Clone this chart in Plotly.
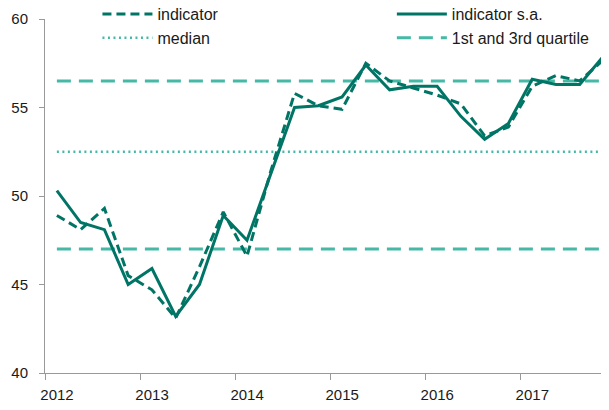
import plotly.graph_objects as go

# Quarterly data 2012Q1 .. 2017Q4
years = [2012, 2013, 2014, 2015, 2016, 2017]
quarters = [f"{y}Q{q}" for y in years for q in range(1, 5)]

indicator = [48.9, 48.1, 49.3, 45.5, 44.7, 43.1, 46.0, 49.1, 46.6, 51.4, 55.8, 55.1,
             54.9, 57.5, 56.5, 56.1, 55.7, 55.2, 53.4, 53.9, 56.2, 56.8, 56.5, 57.7]
indicator_sa = [50.3, 48.5, 48.1, 45.0, 45.9, 43.2, 45.0, 48.9, 47.5, 51.3, 55.0, 55.1,
                55.6, 57.4, 56.0, 56.2, 56.2, 54.5, 53.2, 54.1, 56.6, 56.3, 56.3, 57.9]
median_value = 52.5
q1_value = 47.0
q3_value = 56.5

year_ticks = [2012, 2013, 2014, 2015, 2016, 2017]
year_labels = ["2012", "2013", "2014", "2015", "2016", "2017"]

# position of each quarter in the middle of its category slot
xpos = [int(q[:4]) + (int(q[-1]) - 1) / 4 + 0.125 for q in quarters]

dark = "#007566"
light = "#45b8a6"
font_family = "Liberation Sans, Arial, sans-serif"

fig = go.Figure()
fig.add_trace(go.Scatter(x=[xpos[0], xpos[-1]], y=[median_value, median_value], mode="lines",
                         name="median", legend="legend", legendrank=2,
                         line=dict(color=light, width=2.5, dash="2px,3.5px")))
fig.add_trace(go.Scatter(x=[xpos[0], xpos[-1]], y=[q1_value, q1_value], mode="lines",
                         name="1st and 3rd quartile", legend="legend2", legendrank=2,
                         legendgroup="q",
                         line=dict(color=light, width=3, dash="14px,8px")))
fig.add_trace(go.Scatter(x=[xpos[0], xpos[-1]], y=[q3_value, q3_value], mode="lines",
                         name="1st and 3rd quartile", legend="legend2", legendgroup="q",
                         showlegend=False,
                         line=dict(color=light, width=3, dash="14px,8px")))
fig.add_trace(go.Scatter(x=xpos, y=indicator, mode="lines", name="indicator",
                         legend="legend", legendrank=1,
                         line=dict(color=dark, width=3, dash="9px,5px")))
fig.add_trace(go.Scatter(x=xpos, y=indicator_sa, mode="lines", name="indicator s.a.",
                         legend="legend2", legendrank=1,
                         line=dict(color=dark, width=3)))

leg_common = dict(orientation="v", xanchor="left", yanchor="top", y=1.062,
                  bgcolor="rgba(0,0,0,0)", font=dict(size=16, color="#1a1a1a"),
                  itemwidth=50, tracegroupgap=0)

fig.update_layout(
    width=609, height=410,
    margin=dict(l=37, r=8, t=11, b=45, autoexpand=False),
    paper_bgcolor="white", plot_bgcolor="white",
    font=dict(family=font_family, size=15, color="#1a1a1a"),
    legend=dict(x=0.093, **leg_common),
    legend2=dict(x=0.615, **leg_common),
    xaxis=dict(range=[2012, 2017.933], tickvals=year_ticks, ticktext=year_labels,
               ticks="outside", ticklen=6, tickcolor="#999999", tickwidth=1,
               ticklabelshift=12, ticklabelstandoff=2,
               showline=True, linecolor="#999999", linewidth=1, showgrid=False, zeroline=False),
    yaxis=dict(range=[40, 60], tickvals=[40, 45, 50, 55, 60], ticks="outside", ticklen=5,
               tickcolor="#999999", tickwidth=1, ticklabelstandoff=8,
               showline=True, linecolor="#999999", linewidth=1, showgrid=False, zeroline=False),
)

fig.write_html("out.html")
